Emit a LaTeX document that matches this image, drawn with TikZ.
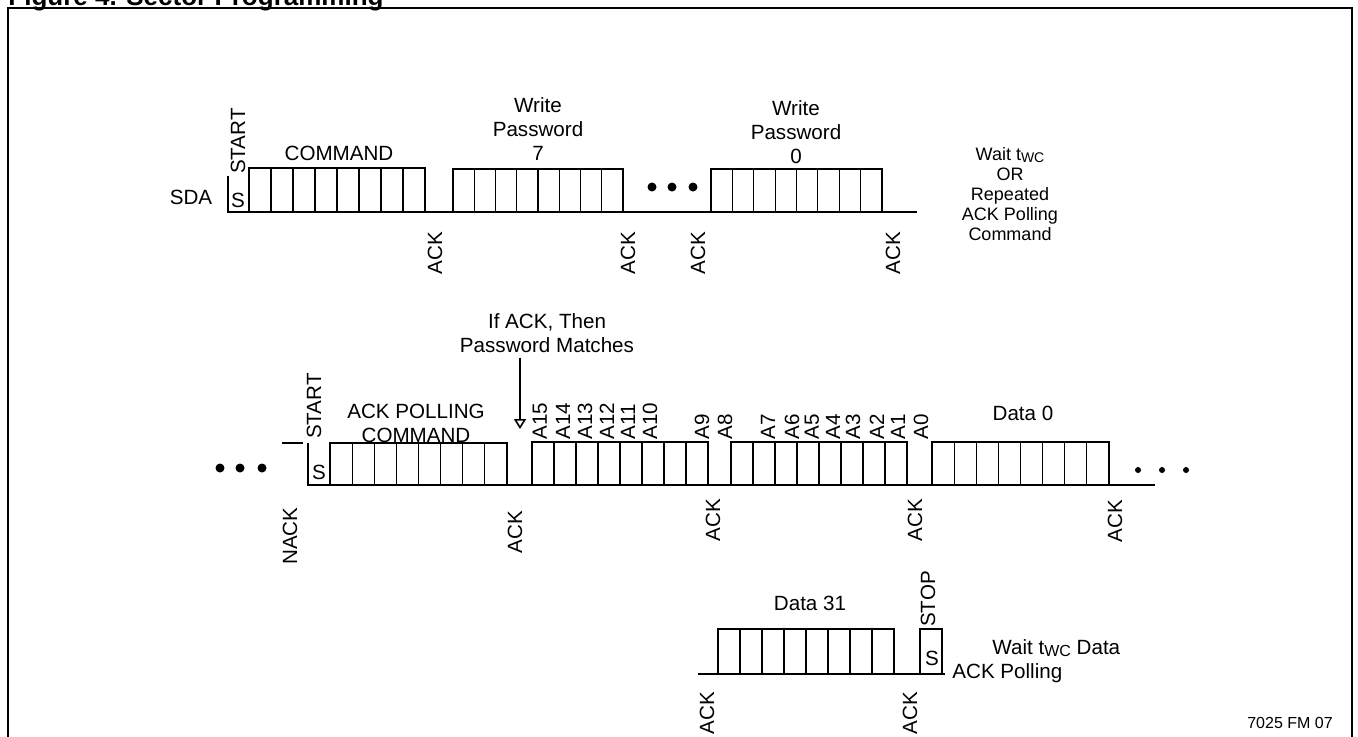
\documentclass[tikz,border=0pt]{standalone}
\usepackage{fontspec}
\setmainfont{Liberation Sans}
\usetikzlibrary{arrows.meta}
\newcommand\bytecells[4]{%
  \foreach \i in {1,...,7}{\draw[celldiv] ({#1+\i*(#2-#1)/8},#3) -- ({#1+\i*(#2-#1)/8},#4);}
  \draw[cellbox] (#1,#3) rectangle (#2,#4);
}
\begin{document}
\begin{tikzpicture}[x=0.5pt,y=-0.5pt,
  lbl/.style={font=\fontsize{10.3}{12}\selectfont, inner sep=0pt, align=center},
  smlbl/.style={font=\fontsize{9}{10}\selectfont, inner sep=0pt, align=center},
  rlbl/.style={lbl, rotate=90},
  cellbox/.style={line width=1pt},
  celldiv/.style={line width=0.6pt},
  wire/.style={line width=0.6pt},
  frame/.style={line width=1pt},
  bigdot/.style={fill=black},
  ptr/.style={line width=0.6pt, -{Triangle[open, length=5pt, width=6pt, line width=0.8pt]}}]
\useasboundingbox (0,0) rectangle (1358,736);
% title and frame
\node[font=\bfseries\fontsize{13}{15}\selectfont, anchor=base west, inner sep=0pt] (title) at (8,5) {Figure 4. Sector Programming};
\draw[frame] (8,760) -- (8,8) -- (1352,8) -- (1352,760);

% ---------------- top row ----------------
\node[lbl] (sda) at (191,197) {SDA};
\draw[wire] (228,212) -- (917,212);
\draw[cellbox] (228,176) -- (228,212) -- (249,212);
\node[lbl] (s1) at (238,200) {S};
\node[rlbl] (start1) at (238,141) {START};
\bytecells{249}{425}{168}{212}
\node[lbl] (cmd1) at (339,153) {COMMAND};
\bytecells{453}{623}{169}{212}
\node[lbl] (wp7) at (538,129) {Write\\Password\\7};
\fill[bigdot] (652,187) circle (4.5) (672,187) circle (4.5) (693,187) circle (4.5);
\bytecells{711}{882}{169}{212}
\node[lbl] (wp0) at (796,132) {Write\\Password\\0};
\foreach \x/\n in {435/a, 628/b, 698/c, 893/d}
  \node[rlbl] (ack1\n) at (\x,253) {ACK};
\node[smlbl] (wait1) at (1010,194) {Wait t\raisebox{-0.25ex}{\fontsize{7}{8}\selectfont WC}\\OR\\Repeated\\ACK Polling\\Command};

% ---------------- middle row ----------------
\fill[bigdot] (220,468) circle (4.5) (240,468) circle (4.5) (262,468) circle (4.5);
\draw[wire] (282,443) -- (303,443);
\draw[wire] (308,485) -- (1155,485);
\draw[cellbox] (308,443) -- (308,485) -- (330,485);
\node[lbl] (s2) at (319,472) {S};
\node[rlbl] (start2) at (314,406) {START};
\bytecells{330}{507}{443}{485}
\node[lbl] (cmd2) at (416,423) {ACK POLLING\\COMMAND};
\node[lbl] (match) at (547,333) {If ACK, Then\\Password Matches};
\coordinate (tip) at (520,429);
\draw[ptr] (match.south -| tip) ++(0,5) -- (tip);
\bytecells{532}{708}{442}{485}
\bytecells{731}{907}{442}{485}
\foreach \x/\t in {540/A15, 563/A14, 585/A13, 607/A12, 628/A11, 650/A10, 702/A9, 725/A8,
                   768/A7, 792/A6, 812/A5, 833/A4, 853/A3, 877/A2, 898/A1, 921/A0}
  \node[rlbl, anchor=west] (addr\t) at (\x,440) {\t};
\bytecells{932}{1109}{442}{485}
\node[lbl] (d0) at (1023,413) {Data 0};
\fill[bigdot] (1138,470) circle (3) (1162,470) circle (3) (1186,470) circle (3);
\node[rlbl] (nack) at (290,536) {NACK};
\node[rlbl] (ack2a) at (515,532) {ACK};
\node[rlbl] (ack2b) at (713,520) {ACK};
\node[rlbl] (ack2c) at (915,520) {ACK};
\node[rlbl] (ack2d) at (1115,521) {ACK};

% ---------------- bottom row ----------------
\draw[wire] (698,674) -- (945,674);
\bytecells{718}{894}{629}{674}
\node[lbl] (d31) at (810,603) {Data 31};
\draw[cellbox] (920,629) rectangle (942,674);
\node[lbl] (s3) at (932,658) {S};
\node[rlbl] (stop) at (928,599) {STOP};
\node[lbl, anchor=west] (wait2) at (992,648) {Wait t\raisebox{-0.25ex}{\fontsize{8}{9}\selectfont WC} Data};
\node[lbl, anchor=west] (poll2) at (952,673) {ACK Polling};
\node[rlbl] (ack3a) at (707,713) {ACK};
\node[rlbl] (ack3b) at (910,713) {ACK};

\node[font=\fontsize{8}{9}\selectfont, inner sep=0pt] (fig) at (1290,723) {7025 FM 07};
\end{tikzpicture}
\end{document}
